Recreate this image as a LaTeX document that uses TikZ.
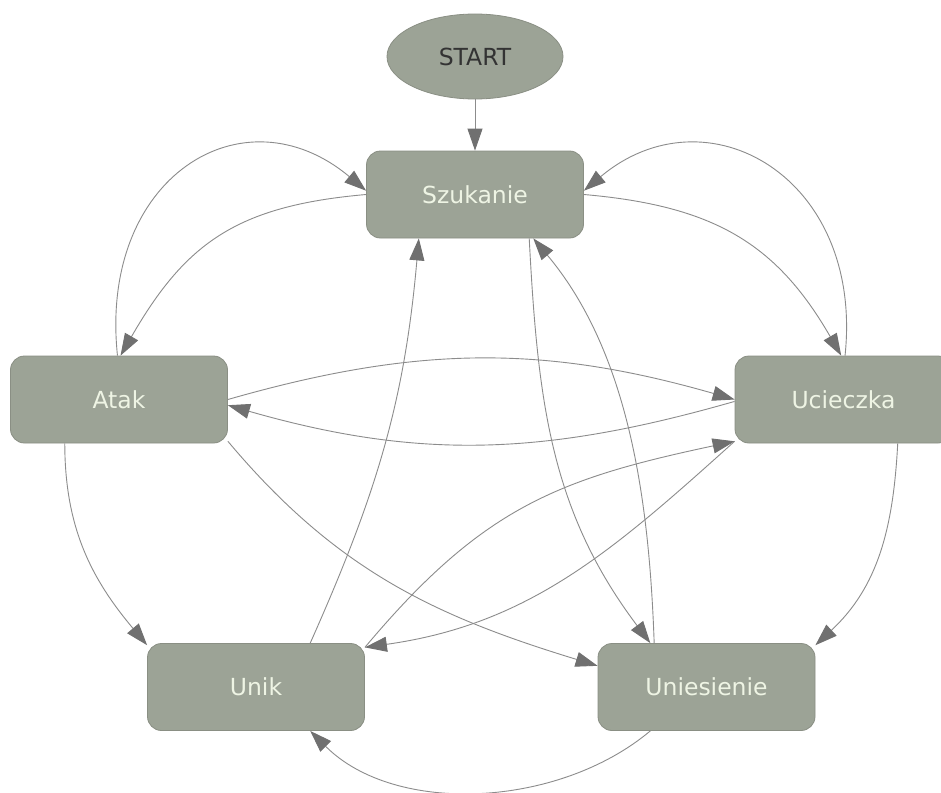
\documentclass[tikz,border=0pt]{standalone}
\usepackage{fontspec}
\setmainfont{DejaVu Sans}
\usetikzlibrary{arrows.meta,shapes.geometric}
\definecolor{boxc}{RGB}{156,163,150}
\definecolor{bordc}{RGB}{138,143,132}
\definecolor{txtc}{RGB}{238,244,228}
\definecolor{linec}{RGB}{140,140,140}
\definecolor{arrc}{RGB}{112,112,112}
\begin{document}
\begin{tikzpicture}[x=1pt,y=1pt,
  state/.style={rectangle, rounded corners=14pt, fill=boxc, draw=bordc, line width=0.8pt,
    minimum width=217pt, minimum height=87pt, inner sep=0pt, text=txtc,
    font=\fontsize{23.5}{28}\selectfont},
  startnode/.style={ellipse, fill=boxc, draw=bordc, line width=0.8pt,
    minimum width=176pt, minimum height=85pt, inner sep=0pt, text=black!80,
    font=\fontsize{23.5}{28}\selectfont},
  conn/.style={draw=linec, line width=0.9pt, -{Triangle[length=22pt,width=15pt,color=arrc]}}]
\useasboundingbox (0,0) rectangle (941,-792);
\fill[white] (0,0) rectangle (941,-792);
\node[startnode] (start) at (475,-56.5) {START};
\node[state] (sz) at (475,-194.5) {Szukanie};
\node[state] (atak) at (119,-399.5) {Atak};
\node[state] (uc) at (843.5,-399.5) {Ucieczka};
\node[state] (unik) at (256,-687) {Unik};
\node[state] (unie) at (706.5,-687) {Uniesienie};

\draw[conn] (start) -- (sz);
% Szukanie <-> Atak
\draw[conn] (sz.180) .. controls +(185:130) and +(60:130) .. (atak.88);
\draw[conn] (atak.92) .. controls +(96:180) and +(140:160) .. (sz.178);
% Szukanie <-> Ucieczka
\draw[conn] (sz.0) .. controls +(-5:130) and +(120:130) .. (uc.93);
\draw[conn] (uc.88) .. controls +(84:180) and +(40:160) .. (sz.2);
% Atak <-> Ucieczka
\draw[conn] (atak.0) to[out=16,in=164] (uc.180);
\draw[conn] (uc.181) to[out=196,in=344] (atak.-3);
% Atak -> Unik, Atak -> Uniesienie
\draw[conn] (atak.219) to[out=270,in=130] (unik.159);
\draw[conn] (atak.-21) to[out=-50,in=163] (unie.169);
% Unik -> Szukanie
\draw[conn] (unik.39) to[out=66,in=265] (sz.218);
% Unik <-> Ucieczka
\draw[conn] (unik.20) to[out=50,in=192,looseness=1.1] (uc.201);
\draw[conn] (uc.201) to[out=222,in=8] (unik.20);
% Ucieczka -> Uniesienie
\draw[conn] (uc.-39) to[out=267,in=43] (unie.21);
% Szukanie <-> Uniesienie
\draw[conn] (sz.-39) to[out=273,in=127] (unie.142);
\draw[conn] (unie.140) .. controls +(92:140) and +(-50:150) .. (sz.-37);
% Uniesienie -> Unik
\draw[conn] (unie.218) .. controls +(220:120) and +(315:120) .. (unik.-39);
\end{tikzpicture}
\end{document}
